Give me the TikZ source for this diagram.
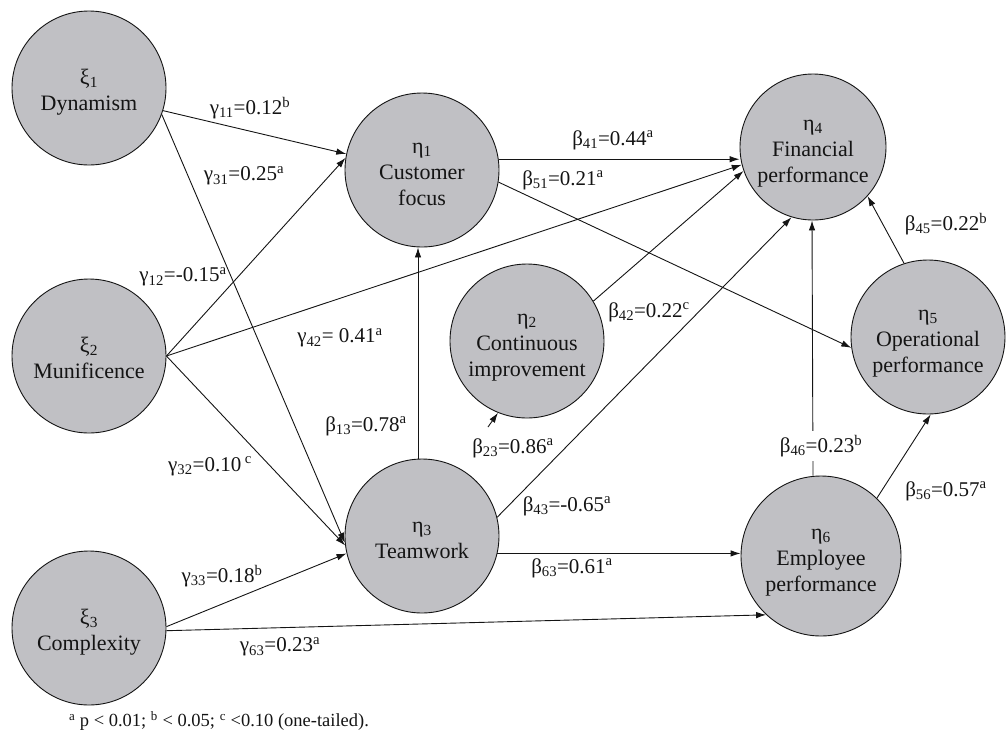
\documentclass[tikz,border=0pt]{standalone}
\usepackage{fontspec}
\setmainfont{Liberation Serif}
\usetikzlibrary{arrows.meta}

\definecolor{nodefill}{RGB}{192,192,196}
\definecolor{ink}{RGB}{20,20,20}

\newcommand{\mysub}[1]{\textsubscript{#1}}
\newcommand{\mysup}[1]{\textsuperscript{#1}}
% struts giving every construct label the same first-line height and last-line depth
\newcommand{\firststrut}{\rule{0pt}{25pt}}
\newcommand{\laststrut}{\rule[-6pt]{0pt}{6pt}}

\begin{document}
\begin{tikzpicture}[x=1pt,y=-1pt,
  latent/.style={circle, draw=ink, line width=0.9pt, fill=nodefill,
    inner sep=0pt, minimum size=#1, align=center,
    font=\fontsize{22}{26}\selectfont, text=ink},
  latent/.default=154pt,
  link/.style={draw=ink, line width=0.9pt, -{Latex[length=10pt,width=6.5pt]}},
  coef/.style={font=\fontsize{21}{24}\selectfont, text=ink, inner sep=1pt},
]
\useasboundingbox (0,0) rectangle (1007,732);

% exogenous constructs
\node[latent] (xi1) at (89,88)  {\firststrut ξ\mysub{1}\\Dynamism\laststrut};
\node[latent] (xi2) at (89,356) {\firststrut ξ\mysub{2}\\Munificence\laststrut};
\node[latent] (xi3) at (89,628) {\firststrut ξ\mysub{3}\\Complexity\laststrut};

% endogenous constructs
\node[latent] (e1) at (422,170) {\firststrut η\mysub{1}\\Customer\\focus\laststrut};
\node[latent] (e2) at (527,341) {\firststrut η\mysub{2}\\Continuous\\improvement\laststrut};
\node[latent] (e3) at (422,536) {\firststrut η\mysub{3}\\Teamwork\laststrut};
\node[latent=146pt] (e4) at (813,147) {\firststrut η\mysub{4}\\Financial\\performance\laststrut};
\node[latent] (e5) at (928,337) {\firststrut η\mysub{5}\\Operational\\performance\laststrut};
\node[latent=160pt] (e6) at (821,556) {\firststrut η\mysub{6}\\Employee\\performance\laststrut};

% structural paths
\draw[link] (xi1.-17) -- (e1.168);
\draw[link] (xi1.-20) -- (e3.-175);
\draw[link] (xi2.0) -- (e1.171);
\draw[link] (xi2.0) -- (e4.-166);
\draw[link] (xi2.0) -- (e3.-173);
\draw[link] (xi3.1) -- (e3.-167);
\draw[link] (xi3.-2) -- (e6.-133);
\draw[link] ([xshift=-4pt]e3.north) -- ([xshift=-4pt]e1.south);
\coordinate (t23) at (488,427);
\draw[link] (t23) -- (e2.-112);
\draw[link] (e3.14) -- (e4.-107);
\draw[link] (e3.-13.5) -- (e3.-13.5 -| e6.west);
\draw[link] ([xshift=-8pt]e6.north) -- ([xshift=-1pt]e4.south);
\draw[link] (e6.46) -- (e5.-88.5);
\draw[link] (e5.108) -- (e4.-42);
\draw[link] (e1.8) -- (e1.8 -| e4.west);
\draw[link] (e1.-9.5) -- (e5.-172.5);
\draw[link] (e2.31) -- (e4.-161);

% path coefficients
\node[coef] (g11) at (250,108) {γ\mysub{11}=0.12\mysup{b}};
\node[coef] (g31) at (244,176) {γ\mysub{31}=0.25\mysup{a}};
\node[coef] (g12) at (183,277) {γ\mysub{12}=-0.15\mysup{a}};
\node[coef] (g42) at (340,338) {γ\mysub{42}= 0.41\mysup{a}};
\node[coef] (b13) at (366,426) {β\mysub{13}=0.78\mysup{a}};
\node[coef] (g32) at (210,466) {γ\mysub{32}=0.10\,\mysup{c}};
\node[coef] (g33) at (222,576) {γ\mysub{33}=0.18\mysup{b}};
\node[coef] (g63) at (280,647) {γ\mysub{63}=0.23\mysup{a}};
\node[coef] (b41) at (613,140) {β\mysub{41}=0.44\mysup{a}};
\node[coef] (b51) at (563,180) {β\mysub{51}=0.21\mysup{a}};
\node[coef] (b45) at (946,224) {β\mysub{45}=0.22\mysup{b}};
\node[coef] (b42) at (649,312) {β\mysub{42}=0.22\mysup{c}};
\node[coef] (b23) at (513,448) {β\mysub{23}=0.86\mysup{a}};
\node[coef] (b43) at (567,506) {β\mysub{43}=-0.65\mysup{a}};
\node[coef] (b63) at (572,568) {β\mysub{63}=0.61\mysup{a}};
\node[coef, fill=white, inner sep=4pt] (b46) at (821,446) {β\mysub{46}=0.23\mysup{b}};
\node[coef] (b56) at (946,491) {β\mysub{56}=0.57\mysup{a}};

% significance note
\node[font=\fontsize{18.5}{20}\selectfont, text=ink, inner sep=0pt] (note) at (219,721)
  {\mysup{a} p < 0.01; \mysup{b} < 0.05; \mysup{c} <0.10 (one-tailed).};
\end{tikzpicture}
\end{document}
